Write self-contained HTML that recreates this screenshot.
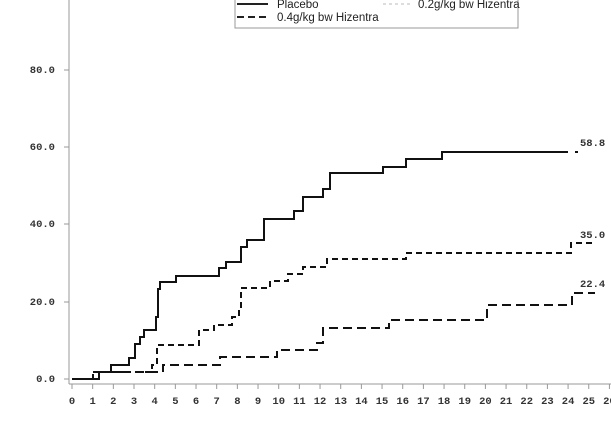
<!DOCTYPE html>
<html><head><meta charset="utf-8"><style>
html,body{margin:0;padding:0;background:#fff;}
svg{display:block;}
.m{font-family:"Liberation Mono",monospace;font-size:10.5px;font-weight:bold;fill:#333;}
.s{font-family:"Liberation Sans",sans-serif;font-size:11.5px;fill:#222;}
</style></head><body>
<svg width="611" height="434" viewBox="0 0 611 434" xmlns="http://www.w3.org/2000/svg">
<rect width="611" height="434" fill="#fff"/>
<rect x="235" y="-5" width="283" height="33" fill="none" stroke="#999" stroke-width="1"/>
<line x1="237" y1="4" x2="268" y2="4" stroke="#222" stroke-width="2"/>
<text class="s" x="277" y="8">Placebo</text>
<line x1="237" y1="17" x2="268" y2="17" stroke="#222" stroke-width="2" stroke-dasharray="7,4"/>
<text class="s" x="277" y="21">0.4g/kg bw Hizentra</text>
<line x1="383" y1="4" x2="413" y2="4" stroke="#bbb" stroke-width="1" stroke-dasharray="3,3"/>
<text class="s" x="418" y="8">0.2g/kg bw Hizentra</text>
<line x1="69" y1="0" x2="69" y2="384" stroke="#999"/>
<line x1="69" y1="384" x2="611" y2="384" stroke="#999"/>
<g stroke="#999">
<line x1="64" y1="70" x2="69" y2="70"/><line x1="64" y1="147" x2="69" y2="147"/>
<line x1="64" y1="224" x2="69" y2="224"/><line x1="64" y1="302" x2="69" y2="302"/>
<line x1="64" y1="379" x2="69" y2="379"/>
</g>
<g class="m" text-anchor="end">
<text x="55" y="73">80.0</text><text x="55" y="150">60.0</text>
<text x="55" y="227">40.0</text><text x="55" y="305">20.0</text>
<text x="55" y="382">0.0</text>
</g>
<g id="xt" stroke="#999"></g>
<g id="xl" class="m" text-anchor="middle"></g>
<polyline fill="none" stroke="#111" stroke-width="2" points="72,379 99,379 99,372 111,372 111,365 129,365 129,358 135,358 135,344 140,344 140,337 144,337 144,330 156,330 156,317 158,317 158,289 160,289 160,282 176,282 176,276 219,276 219,268 226,268 226,262 241,262 241,247 247,247 247,240 264,240 264,219 294,219 294,211 303,211 303,197 323,197 323,189 330,189 330,173 383,173 383,167 406,167 406,159 442,159 442,152 568,152"/>
<line x1="575" y1="152" x2="578" y2="152" stroke="#111" stroke-width="2"/>
<polyline fill="none" stroke="#111" stroke-width="2" stroke-dasharray="6,4" points="72,379 93,379 93,372 152,372 152,365 157,365 157,345 199,345 199,330 214,330 214,325 232,325 232,317 239,317 239,309 241,309 241,288 270,288 270,281 288,281 288,274 303,274 303,267 327,267 327,259 406,259 406,253 571,253 571,243 593,243"/>
<polyline fill="none" stroke="#111" stroke-width="2" stroke-dasharray="9,5" points="93,372 163,372 163,365 220,365 220,357 277,357 277,350 317,350 317,343 323,343 323,328 389,328 389,320 487,320 487,305 572,305 572,293 595,293"/>
<g class="m">
<text x="580" y="146">58.8</text><text x="580" y="238">35.0</text><text x="580" y="287">22.4</text>
</g>
</svg>
<script>
var t=document.getElementById('xt'),l=document.getElementById('xl'),ns='http://www.w3.org/2000/svg';
for(var i=0;i<=26;i++){var x=72+i*20.67;
var ln=document.createElementNS(ns,'line');ln.setAttribute('x1',x);ln.setAttribute('x2',x);ln.setAttribute('y1',384);ln.setAttribute('y2',389);t.appendChild(ln);
var tx=document.createElementNS(ns,'text');tx.setAttribute('x',x);tx.setAttribute('y',404);tx.textContent=i;l.appendChild(tx);}
</script>
</body></html>
